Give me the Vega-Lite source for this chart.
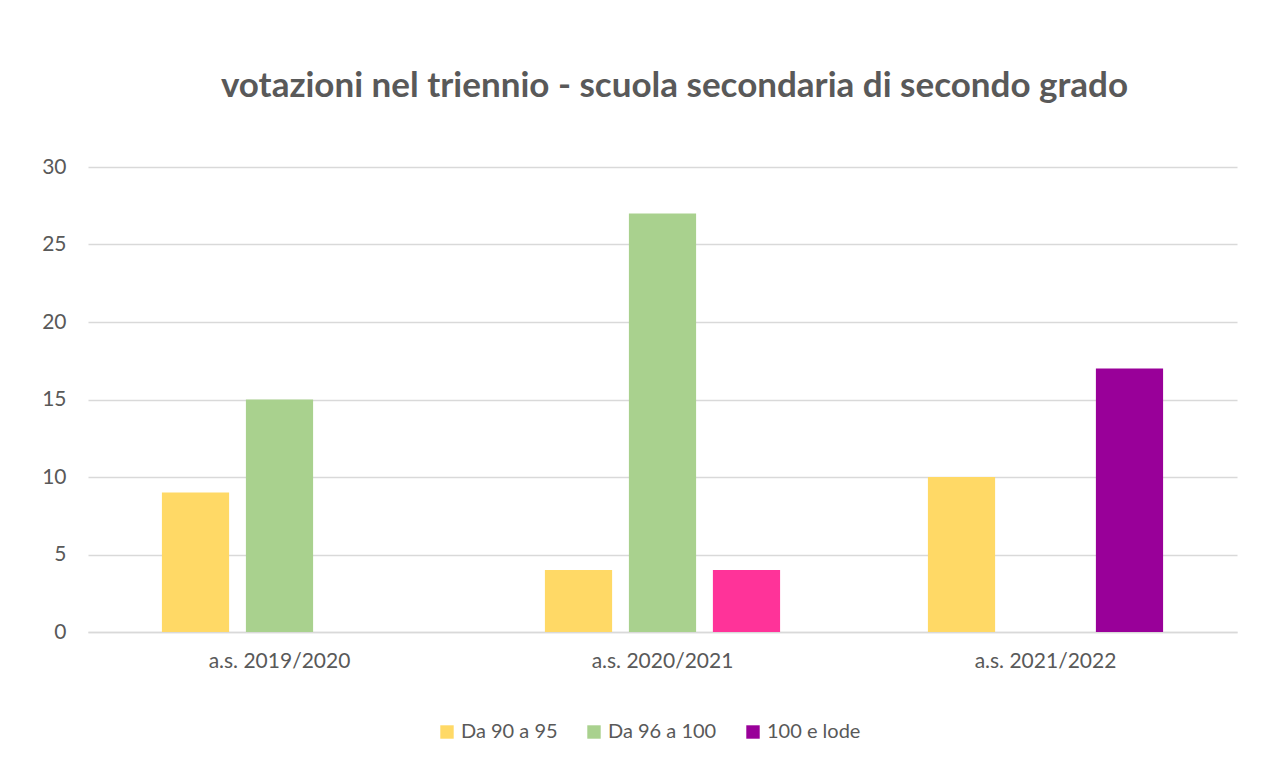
{
  "$schema": "https://vega.github.io/schema/vega-lite/v6.json",
  "width": 1149,
  "height": 465,
  "autosize": {"type": "none"},
  "padding": {"left": 88, "top": 167, "right": 34, "bottom": 131},
  "background": "white",
  "title": {
    "text": "votazioni nel triennio - scuola secondaria di secondo grado",
    "font": "Lato",
    "fontSize": 35,
    "fontWeight": "bold",
    "color": "#595959",
    "anchor": "middle",
    "offset": 52,
    "dx": 12
  },
  "data": {
    "values": [
      {"anno": "a.s. 2019/2020", "serie": "Da 90 a 95", "colore": "Da 90 a 95", "valore": 9},
      {"anno": "a.s. 2019/2020", "serie": "Da 96 a 100", "colore": "Da 96 a 100", "valore": 15},
      {"anno": "a.s. 2019/2020", "serie": "100 e lode", "colore": "100 e lode", "valore": 0},
      {"anno": "a.s. 2020/2021", "serie": "Da 90 a 95", "colore": "Da 90 a 95", "valore": 4},
      {"anno": "a.s. 2020/2021", "serie": "Da 96 a 100", "colore": "Da 96 a 100", "valore": 27},
      {"anno": "a.s. 2020/2021", "serie": "100 e lode", "colore": "100 e lode (rosa)", "valore": 4},
      {"anno": "a.s. 2021/2022", "serie": "Da 90 a 95", "colore": "Da 90 a 95", "valore": 10},
      {"anno": "a.s. 2021/2022", "serie": "Da 96 a 100", "colore": "Da 96 a 100", "valore": 0},
      {"anno": "a.s. 2021/2022", "serie": "100 e lode", "colore": "100 e lode", "valore": 17}
    ]
  },
  "mark": {"type": "bar"},
  "encoding": {
    "x": {
      "field": "anno",
      "type": "nominal",
      "sort": null,
      "scale": {"paddingInner": 0, "paddingOuter": 0},
      "axis": {
        "title": null,
        "labelAngle": 0,
        "ticks": false,
        "domain": true,
        "domainColor": "#D9D9D9",
        "domainWidth": 1.5,
        "labelFont": "Lato",
        "labelFontSize": 21,
        "labelColor": "#595959",
        "labelPadding": 18
      }
    },
    "xOffset": {
      "field": "serie",
      "type": "nominal",
      "sort": ["Da 90 a 95", "Da 96 a 100", "100 e lode"],
      "scale": {"paddingInner": 0.2, "paddingOuter": 0.88}
    },
    "y": {
      "field": "valore",
      "type": "quantitative",
      "scale": {"domain": [0, 30]},
      "axis": {
        "title": null,
        "values": [0, 5, 10, 15, 20, 25, 30],
        "ticks": false,
        "domain": false,
        "gridColor": "#D9D9D9",
        "gridWidth": 1.5,
        "labelFont": "Lato",
        "labelFontSize": 21,
        "labelColor": "#595959",
        "labelPadding": 22
      }
    },
    "color": {
      "field": "colore",
      "type": "nominal",
      "scale": {
        "domain": ["Da 90 a 95", "Da 96 a 100", "100 e lode", "100 e lode (rosa)"],
        "range": ["#FFD966", "#A9D18E", "#990099", "#FF3399"]
      },
      "legend": {
        "title": null,
        "orient": "none",
        "legendX": 349,
        "legendY": 555,
        "direction": "horizontal",
        "values": ["Da 90 a 95", "Da 96 a 100", "100 e lode"],
        "symbolType": "square",
        "symbolSize": 180,
        "labelFont": "Lato",
        "labelFontSize": 20,
        "labelColor": "#595959",
        "labelOffset": 4,
        "columnPadding": 26
      }
    }
  },
  "config": {
    "view": {"stroke": null}
  }
}
